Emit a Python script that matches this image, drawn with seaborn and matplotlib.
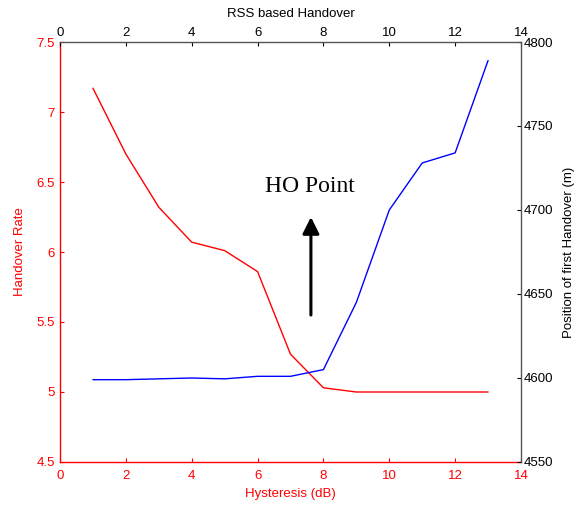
import matplotlib
matplotlib.use("Agg")
import matplotlib.pyplot as plt
import seaborn as sns
import pandas as pd

# ---- data ----
hysteresis = [1, 2, 3, 4, 5, 6, 7, 8, 9, 10, 11, 12, 13]
handover_rate = [7.17, 6.70, 6.32, 6.07, 6.01, 5.86, 5.27, 5.03, 5.00, 5.00, 5.00, 5.00, 5.00]
first_ho_position = [4599, 4599, 4599.5, 4600, 4599.5, 4601, 4601, 4605, 4645, 4700, 4728, 4734, 4789]
x_ticks = [0, 2, 4, 6, 8, 10, 12, 14]
left_ticks = [4.5, 5, 5.5, 6, 6.5, 7, 7.5]
left_tick_labels = ["4.5", "5", "5.5", "6", "6.5", "7", "7.5"]
right_ticks = [4550, 4600, 4650, 4700, 4750, 4800]

df = pd.DataFrame({"hyst": hysteresis, "rate": handover_rate, "pos": first_ho_position})

sns.set_style("white")
plt.rcParams["font.family"] = ["Liberation Sans", "DejaVu Sans"]

fig = plt.figure(figsize=(5.8, 5.08), dpi=100)
rect = [60 / 580, (508 - 462) / 508, 461 / 580, 420 / 508]
ax = fig.add_axes(rect)
ax2 = fig.add_axes(rect, facecolor="none")

RED = "#ff0000"
GREY = "#555555"
FS = 9.5

sns.lineplot(data=df, x="hyst", y="rate", color=RED, lw=1, ax=ax)
sns.lineplot(data=df, x="hyst", y="pos", color="#0000ff", lw=1, ax=ax2)

# primary axes (red, left/bottom)
ax.set_xlim(0, 14)
ax.set_ylim(4.5, 7.5)
ax.set_xticks(x_ticks)
ax.set_xticklabels([str(t) for t in x_ticks])
ax.set_yticks(left_ticks)
ax.set_yticklabels(left_tick_labels)
ax.tick_params(axis="both", direction="in", length=3, width=0.8, color=RED,
               labelcolor=RED, labelsize=FS)
ax.tick_params(axis="x", bottom=True, top=False, pad=5.5)
ax.tick_params(axis="y", left=True, right=False, pad=3.5)
for s in ["top", "right"]:
    ax.spines[s].set_visible(False)
for s in ["left", "bottom"]:
    ax.spines[s].set_color(RED)
    ax.spines[s].set_linewidth(1)
ax.set_xlabel("Hysteresis (dB)", color=RED, fontsize=FS, labelpad=4.5)
ax.set_ylabel("Handover Rate", color=RED, fontsize=FS, labelpad=8)

# secondary axes (black, top/right)
ax2.set_xlim(0, 14)
ax2.set_ylim(4550, 4800)
ax2.set_xticks(x_ticks)
ax2.set_xticklabels([str(t) for t in x_ticks])
ax2.set_yticks(right_ticks)
ax2.set_yticklabels([str(t) for t in right_ticks])
ax2.xaxis.tick_top()
ax2.yaxis.tick_right()
ax2.xaxis.set_label_position("top")
ax2.yaxis.set_label_position("right")
ax2.tick_params(axis="both", direction="in", length=3, width=0.8, color="black",
                labelcolor="black", labelsize=FS, pad=2)
for s in ["left", "bottom"]:
    ax2.spines[s].set_visible(False)
for s in ["top", "right"]:
    ax2.spines[s].set_color(GREY)
    ax2.spines[s].set_linewidth(1)
ax2.set_xlabel("RSS based Handover", color="black", fontsize=FS, labelpad=7.5)
ax2.set_ylabel("Position of first Handover (m)", color="black", fontsize=FS, labelpad=7)

# annotation
ax.text(7.6, 6.47, "HO Point", fontsize=17, family=["Liberation Serif", "DejaVu Serif"],
        ha="center", va="center", color="black")
ax.annotate("", xy=(7.62, 6.25), xytext=(7.62, 5.55),
            arrowprops=dict(arrowstyle="-|>,head_length=0.5,head_width=0.25",
                            lw=2.2, color="black", mutation_scale=20,
                            shrinkA=0, shrinkB=0))

fig.savefig("out.png", dpi=100)
